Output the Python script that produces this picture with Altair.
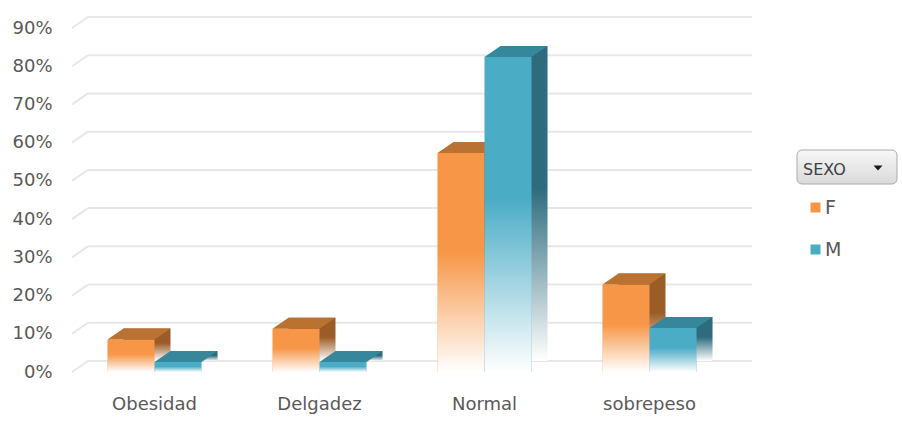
import altair as alt
import pandas as pd

# ---- data ----
categories = ["Obesidad", "Delgadez", "Normal", "sobrepeso"]
series = ["F", "M"]
values_f = [0.085, 0.113, 0.573, 0.229]
values_m = [0.026, 0.026, 0.824, 0.115]
tick_values = [0.0, 0.1, 0.2, 0.3, 0.4, 0.5, 0.6, 0.7, 0.8, 0.9]

front_colors = {"F": "#F79646", "M": "#4BACC6"}
top_colors = {"F": "#BA7232", "M": "#37879C"}
side_colors = {"F": "#9C5C27", "M": "#2D6B7D"}

rows = []
for c, f, m in zip(categories, values_f, values_m):
    rows.append({"cat": c, "sexo": "F", "v": f})
    rows.append({"cat": c, "sexo": "M", "v": m})
df = pd.DataFrame(rows)
grid_df = pd.DataFrame({"t": tick_values})

# ---- layout / style ----
W, H = 660, 344
DX, DY = 16, 11
P_INNER = 0.43
BAND_W = (W / len(categories)) * (1 - P_INNER)
HALF = BAND_W / 4
FONT = "DejaVu Sans"
TXT = "#595959"
GRID = "#E7E7E7"


def fade(color):
    return {
        "gradient": "linear", "x1": 0, "y1": 0, "x2": 0, "y2": 1,
        "stops": [
            {"offset": 0, "color": color},
            {"offset": 0.45, "color": color},
            {"offset": 1, "color": "#FFFFFF"},
        ],
    }


white_fade = {
    "gradient": "linear", "x1": 0, "y1": 0, "x2": 0, "y2": 1,
    "stops": [
        {"offset": 0, "color": "rgba(255,255,255,0)"},
        {"offset": 0.45, "color": "rgba(255,255,255,0)"},
        {"offset": 1, "color": "rgba(255,255,255,1)"},
    ],
}

x_scale = alt.Scale(domain=categories, paddingInner=P_INNER, paddingOuter=P_INNER / 2)
xo_scale = alt.Scale(type="band", domain=series, paddingInner=0, paddingOuter=0,
                     range=[0, BAND_W])
xo_back_scale = alt.Scale(type="band", domain=series, paddingInner=0, paddingOuter=0,
                          range=[DX, DX + BAND_W])
y_scale = alt.Scale(domain=[0, 0.9], nice=False, zero=True)

y_axis = alt.Axis(values=tick_values, format=".0%", title=None, grid=False,
                  domain=False, ticks=False, labelPadding=20, labelFontSize=18,
                  labelFont=FONT, labelColor=TXT)
x_axis = alt.Axis(title=None, grid=False, domain=False, ticks=False,
                  labelAngle=0, labelPadding=23, labelFontSize=18,
                  labelFont=FONT, labelColor=TXT)

X = alt.X("cat:N", scale=x_scale, axis=x_axis, sort=categories)
XO = alt.XOffset("sexo:N", scale=xo_scale, sort=series)
XO_BACK = alt.XOffset("sexo:N", scale=xo_back_scale, sort=series)
Y = alt.Y("v:Q", scale=y_scale, axis=y_axis)

grid_diag = alt.Chart(grid_df).mark_rule(color=GRID, strokeWidth=2, y2Offset=-DY).encode(
    x=alt.value(0), x2=alt.value(DX),
    y=alt.Y("t:Q", scale=y_scale, axis=y_axis), y2=alt.Y2("t:Q"))
grid_h = alt.Chart(grid_df).mark_rule(color=GRID, strokeWidth=2, yOffset=-DY).encode(
    x=alt.value(DX), x2=alt.value(W + DX + 4),
    y=alt.Y("t:Q", scale=y_scale, axis=y_axis))

layers = [grid_diag, grid_h]
top_path = f"M {-HALF} 0 L {HALF} 0 L {HALF + DX} {-DY} L {-HALF + DX} {-DY} Z"

for s in series:
    base = alt.Chart(df).transform_filter(alt.datum.sexo == s)
    back = base.mark_bar(yOffset=-DY, y2Offset=-DY, fill=fade(side_colors[s])).encode(
        x=X, xOffset=XO_BACK, y=Y, y2=alt.datum(0))
    front = base.mark_bar(opacity=1).encode(
        x=X, xOffset=XO, y=Y, y2=alt.datum(0),
        color=alt.Color("sexo:N",
                        scale=alt.Scale(domain=series,
                                        range=[front_colors["F"], front_colors["M"]]),
                        legend=alt.Legend(
                            title="SEXO", orient="none", legendX=731, legendY=134,
                            symbolType="square", symbolSize=100, symbolStrokeWidth=0,
                            symbolOffset=3, labelOffset=0, padding=0,
                            labelFontSize=19, labelFont=FONT, labelColor=TXT,
                            titleFontSize=16, titleFont=FONT, titleColor="#404040",
                            titleFontWeight="normal", titlePadding=20, rowPadding=22)))
    overlay = base.mark_bar(fill=white_fade).encode(
        x=X, xOffset=XO, y=Y, y2=alt.datum(0))
    top = base.mark_point(shape=top_path, size=4, filled=True, fill=top_colors[s],
                          opacity=1, strokeWidth=0).encode(x=X, xOffset=XO, y=Y)
    layers += [back, front, overlay, top]

one = alt.Data(values=[{"k": 1}])
button = alt.Chart(one).mark_rect(
    cornerRadius=5, stroke="#ABABAB", strokeWidth=1,
    fill={"gradient": "linear", "x1": 0, "y1": 0, "x2": 0, "y2": 1,
          "stops": [{"offset": 0, "color": "#F7F7F7"},
                    {"offset": 1, "color": "#DADADA"}]}).encode(
    x=alt.value(725), x2=alt.value(825), y=alt.value(122), y2=alt.value(156))
arrow = alt.Chart(one).mark_point(
    shape="M -1 -0.55 L 1 -0.55 L 0 0.55 Z", size=81, filled=True,
    fill="#1A1A1A", opacity=1, strokeWidth=0).encode(
    x=alt.value(806), y=alt.value(140))
layers += [button, arrow]

chart = alt.layer(*layers).resolve_scale(xOffset="independent").properties(
    width=W, height=H,
    autosize=alt.AutoSizeParams(type="none"),
    padding={"left": 72, "top": 28, "right": 170, "bottom": 52},
    background="white",
).configure_view(stroke=None)

chart.save("out.html", embed_options={"renderer": "svg", "actions": False})
